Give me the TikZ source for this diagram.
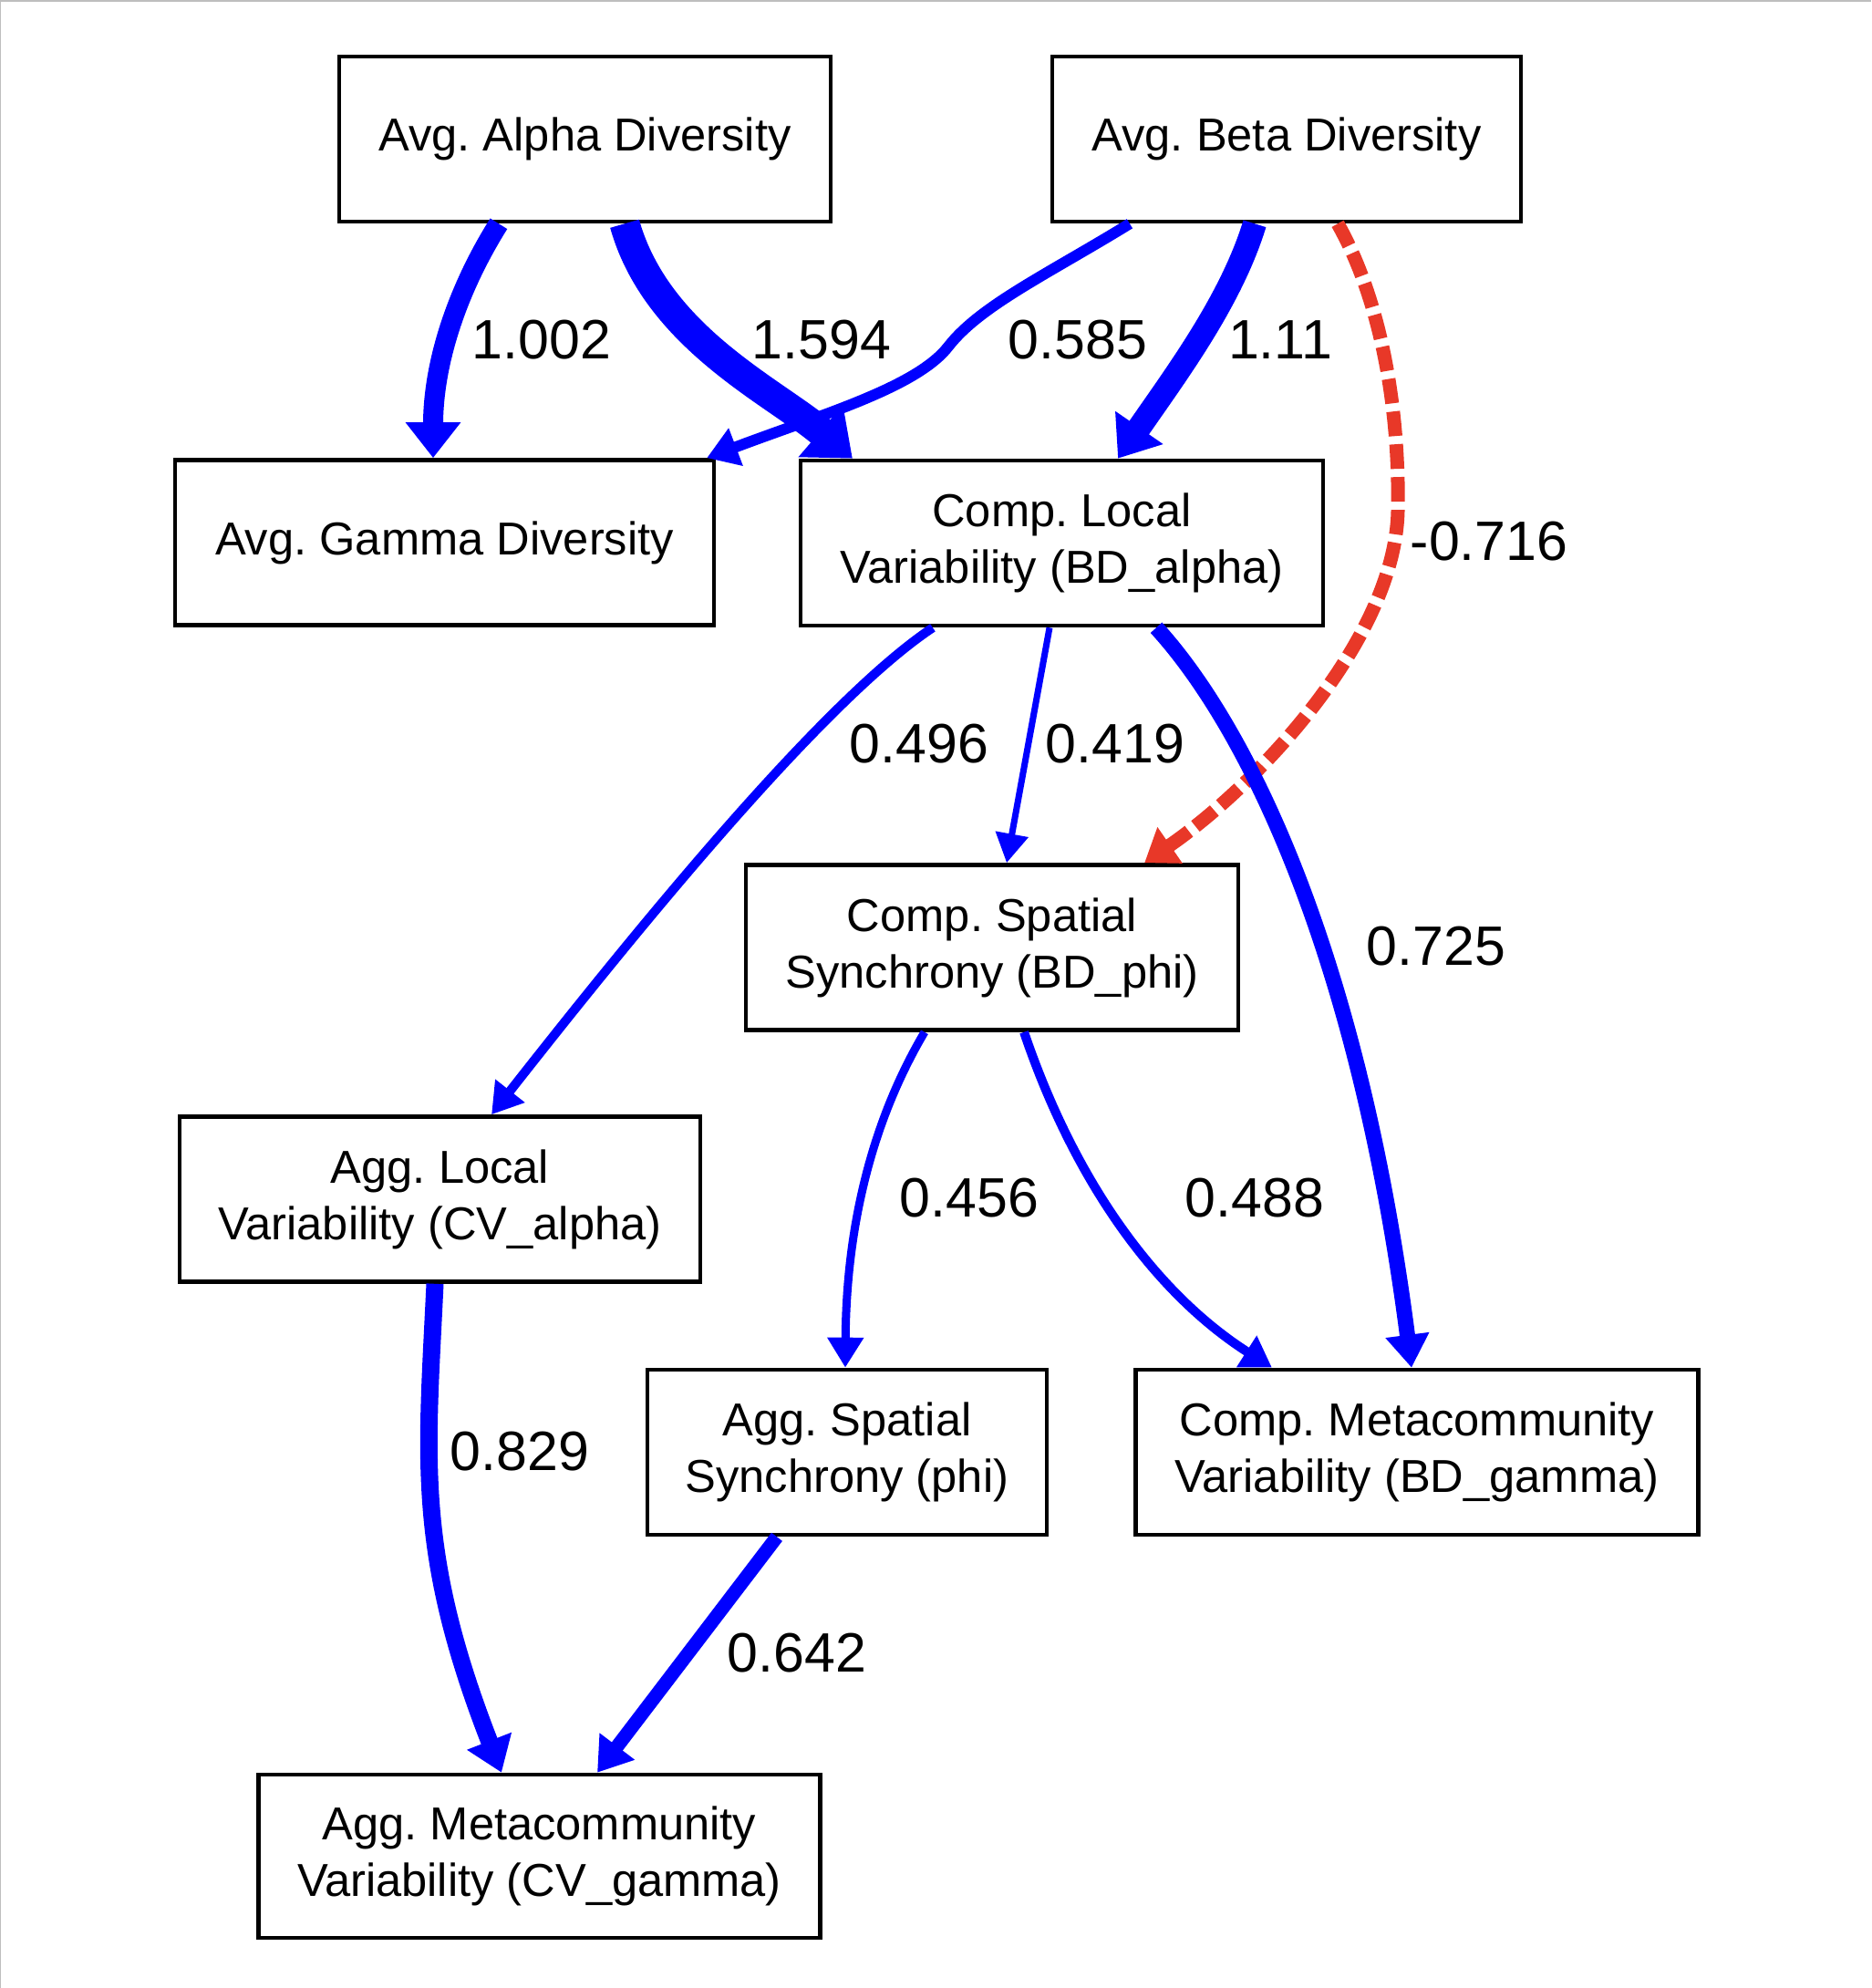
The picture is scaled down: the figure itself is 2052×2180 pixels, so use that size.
\documentclass[tikz,border=0pt]{standalone}
\usepackage{fontspec}
\setmainfont{Liberation Sans}
\usetikzlibrary{arrows.meta}
\definecolor{eblue}{RGB}{0,0,255}
\definecolor{ered}{RGB}{232,56,40}
\definecolor{framegray}{RGB}{190,190,190}
\frenchspacing
\begin{document}
\begin{tikzpicture}[x=0.01cm,y=-0.01cm,
  box/.style={draw=black, line width=0.045cm, rectangle, inner sep=0pt, align=center,
    font=\fontsize{14.4pt}{17.6pt}\selectfont, minimum height=1.81cm},
  lbl/.style={inner sep=0pt, font=\fontsize{17.3pt}{20pt}\selectfont},
  ar/.style n args={3}{draw=eblue, line width=#1, -{Triangle[length=#2,width=#3]}},
  negar/.style n args={3}{draw=ered, line width=#1, dash pattern=on 0.27cm off 0.09cm,
    -{Triangle[length=#2,width=#3]}},
]
\useasboundingbox (0,0) rectangle (2052,2180);
\fill[white] (0,0) rectangle (2052,2180);
\fill[framegray] (0,0) rectangle (2052,2.5);
\fill[framegray] (0,0) rectangle (1.5,2180);

% nodes
\node[box, minimum width=5.39cm] (alpha) at (641.5,152.5) {Avg. Alpha Diversity};
\node[box, minimum width=5.14cm] (beta) at (1411,152.5) {Avg. Beta Diversity};
\node[box, minimum width=5.91cm] (gamma) at (487.5,595) {Avg. Gamma Diversity};
\node[box, minimum width=5.73cm] (bda) at (1164.5,595.5) {Comp. Local\\Variability (BD\_alpha)};
\node[box, minimum width=5.40cm] (bdphi) at (1088,1039) {Comp. Spatial\\Synchrony (BD\_phi)};
\node[box, minimum width=5.71cm] (cva) at (482.5,1315) {Agg. Local\\Variability (CV\_alpha)};
\node[box, minimum width=4.38cm] (phi) at (929,1592.5) {Agg. Spatial\\Synchrony (phi)};
\node[box, minimum width=6.17cm] (bdg) at (1554,1592.5) {Comp. Metacommunity\\Variability (BD\_gamma)};
\node[box, minimum width=6.16cm, minimum height=1.79cm] (cvg) at (591.5,2035.5) {Agg. Metacommunity\\Variability (CV\_gamma)};

% edges
\draw[ar={0.22cm}{0.39cm}{0.58cm}] ([xshift=-0.945cm]alpha.south)
  .. controls (500,320) and (475,400) .. ([xshift=-0.125cm]gamma.north);
\draw[ar={0.33cm}{0.46cm}{0.72cm}] ([xshift=0.435cm]alpha.south)
  .. controls (720,370) and (850,430) .. ([xshift=-2.295cm]bda.north);
\draw[ar={0.12cm}{0.34cm}{0.42cm}] ([xshift=-1.72cm]beta.south)
  .. controls (1150,300) and (1075,335) .. (1040,380)
  .. controls (1005,425) and (900,455) .. ([xshift=2.875cm]gamma.north);
\draw[ar={0.26cm}{0.41cm}{0.61cm}] ([xshift=-0.35cm]beta.south)
  .. controls (1350,330) and (1290,410) .. ([xshift=0.615cm]bda.north);
\draw[negar={0.15cm}{0.34cm}{0.46cm}] ([xshift=0.56cm]beta.south)
  .. controls (1515,330) and (1535,450) .. (1533,560)
  .. controls (1530,700) and (1380,860) .. ([xshift=1.67cm]bdphi.north);
\draw[ar={0.10cm}{0.33cm}{0.39cm}] ([xshift=-1.415cm]bda.south)
  .. controls (900,770) and (690,1030) .. ([xshift=0.565cm]cva.north);
\draw[ar={0.07cm}{0.32cm}{0.35cm}] ([xshift=-0.135cm]bda.south) -- ([xshift=0.16cm]bdphi.north);
\draw[ar={0.17cm}{0.36cm}{0.46cm}] ([xshift=1.035cm]bda.south)
  .. controls (1370,800) and (1490,1050) .. ([xshift=-0.06cm]bdg.north);
\draw[ar={0.09cm}{0.33cm}{0.38cm}] ([xshift=-0.74cm]bdphi.south)
  .. controls (950,1240) and (928,1360) .. ([xshift=-0.02cm]phi.north);
\draw[ar={0.10cm}{0.33cm}{0.39cm}] ([xshift=0.35cm]bdphi.south)
  .. controls (1180,1300) and (1270,1420) .. ([xshift=-1.59cm]bdg.north);
\draw[ar={0.19cm}{0.37cm}{0.50cm}] ([xshift=-0.055cm]cva.south)
  .. controls (468,1600) and (455,1700) .. ([xshift=-0.415cm]cvg.north);
\draw[ar={0.15cm}{0.36cm}{0.46cm}] ([xshift=-0.77cm]phi.south) -- ([xshift=0.635cm]cvg.north);

% labels
\node[lbl] (l1) at (594,373) {1.002};
\node[lbl] (l2) at (901,373) {1.594};
\node[lbl] (l3) at (1182,373) {0.585};
\node[lbl] (l4) at (1404,373) {1.11};
\node[lbl] (l5) at (1633,594) {-0.716};
\node[lbl] (l6) at (1008,816) {0.496};
\node[lbl] (l7) at (1223,816) {0.419};
\node[lbl] (l8) at (1575,1038) {0.725};
\node[lbl] (l9) at (1063,1314) {0.456};
\node[lbl] (l10) at (1376,1314) {0.488};
\node[lbl] (l11) at (570,1592) {0.829};
\node[lbl] (l12) at (874,1813) {0.642};
\end{tikzpicture}
\end{document}
